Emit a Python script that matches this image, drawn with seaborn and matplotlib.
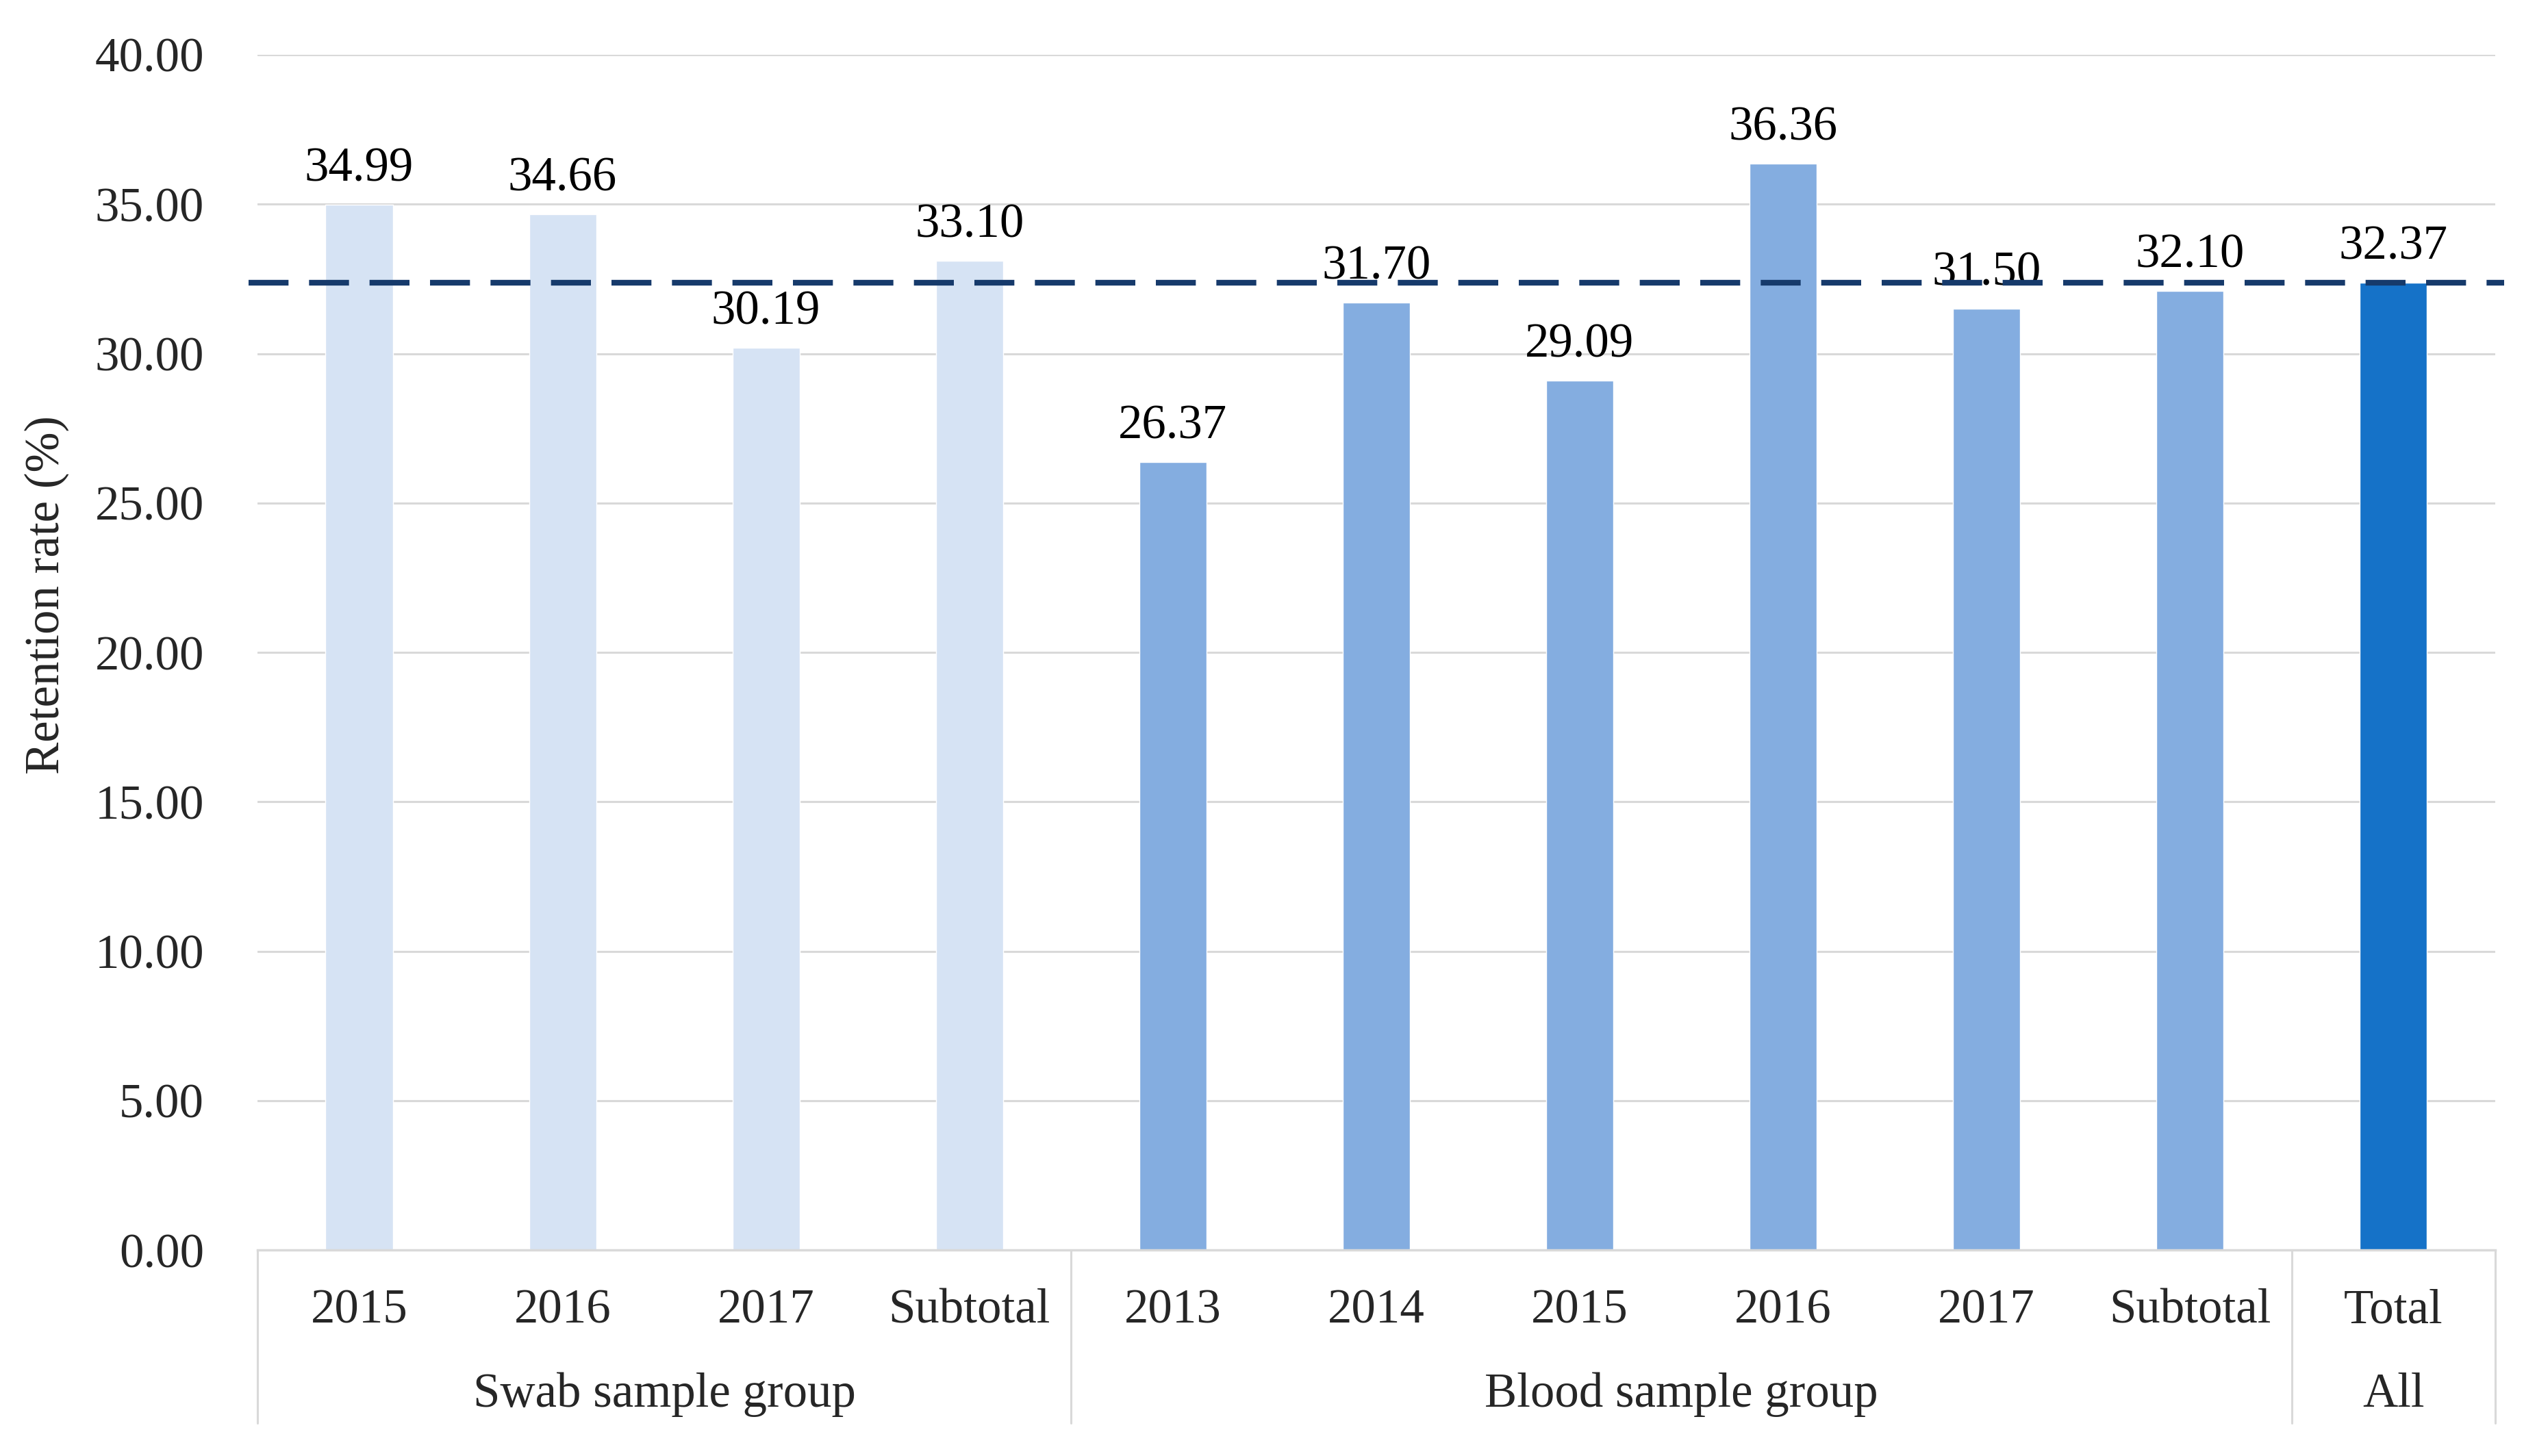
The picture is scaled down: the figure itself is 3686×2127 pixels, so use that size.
import pandas as pd
import matplotlib.pyplot as plt
import matplotlib.transforms as mtransforms
import seaborn as sns

# data
groups = ["Swab sample group"] * 4 + ["Blood sample group"] * 6 + ["All"]
labels = ["2015", "2016", "2017", "Subtotal",
          "2013", "2014", "2015", "2016", "2017", "Subtotal",
          "Total"]
swab_values = [34.99, 34.66, 30.19, 33.10]
blood_values = [26.37, 31.70, 29.09, 36.36, 31.50, 32.10]
all_values = [32.37]
overall_rate = 32.37

group_names = ["Swab sample group", "Blood sample group", "All"]
group_colors = {"Swab sample group": "#D6E3F4",
                "Blood sample group": "#84ADE0",
                "All": "#1572C8"}

values = swab_values + blood_values + all_values
df = pd.DataFrame({
    "key": [f"{g}|{l}" for g, l in zip(groups, labels)],
    "label": labels,
    "group": groups,
    "rate": values,
})

sns.set_style("white")
plt.rcParams["font.family"] = ["Liberation Serif", "DejaVu Serif"]

FS = 51
fig = plt.figure(figsize=(36.86, 21.27), dpi=100)
ax = fig.add_axes([0.102, 0.1414, 0.8865, 0.821])

sns.barplot(data=df, x="key", y="rate", hue="group", hue_order=group_names,
            palette=group_colors, width=0.33, dodge=False, legend=False,
            saturation=1, ax=ax)

for cont in ax.containers:
    ax.bar_label(cont, fmt="%.2f", padding=14, fontsize=FS, color="black")

ax.axhline(overall_rate, xmin=-0.004, xmax=1.004, color="#163A6B",
           lw=6, dashes=(7, 3.6), clip_on=False, zorder=5)

ax.set_ylim(0, 40)
ax.set_xlim(-0.5, len(labels) - 0.5)
ax.set_yticks(range(0, 41, 5))
ax.set_yticklabels([f"{v:.2f}" for v in range(0, 41, 5)])
ax.yaxis.grid(True, color="#D9D9D9", lw=2.2)
ax.set_axisbelow(True)
ax.tick_params(axis="y", length=0, pad=56, labelsize=FS)
ax.tick_params(axis="x", length=0, labelbottom=False)
ax.set_xlabel("")
ax.set_ylabel("Retention rate (%)", fontsize=FS)
ax.yaxis.set_label_coords(-0.084, 0.548)

for side in ["top", "right", "left"]:
    ax.spines[side].set_visible(False)
ax.spines["bottom"].set_color("#D9D9D9")
ax.spines["bottom"].set_linewidth(2.5)

# two-level category axis
trans = mtransforms.blended_transform_factory(ax.transData, ax.transAxes)
for i, lab in enumerate(labels):
    ax.text(i, -0.051, lab, transform=trans, ha="center", va="center", fontsize=FS)

bounds = [-0.5]
pos = 0
for g in group_names:
    n = groups.count(g)
    ax.text(pos + (n - 1) / 2, -0.121, g, transform=trans,
            ha="center", va="center", fontsize=FS)
    pos += n
    bounds.append(pos - 0.5)
for b in bounds:
    ax.plot([b, b], [0, -0.145], transform=trans, color="#D9D9D9",
            lw=2.2, clip_on=False)

fig.savefig("out.png", dpi=100)
